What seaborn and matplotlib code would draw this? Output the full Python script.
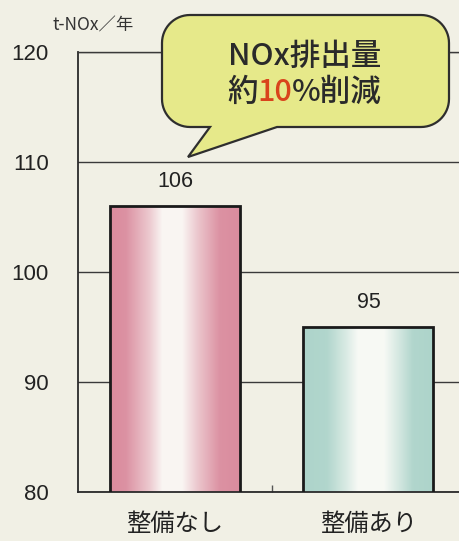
import numpy as np
import pandas as pd
import matplotlib
matplotlib.use("Agg")
import matplotlib.pyplot as plt
import seaborn as sns
from matplotlib.patches import Polygon
from matplotlib.colors import to_rgb

# --- data -------------------------------------------------------------
categories = ["整備なし", "整備あり"]
emissions = [106, 95]
yticks = [80, 90, 100, 110, 120]
unit_label = "t-NOx／年"
callout_line1 = "NOx排出量"
callout_line2 = ["約", "10", "%削減"]

# --- style ------------------------------------------------------------
sns.set_theme(style="white")
plt.rcParams["font.family"] = ["Liberation Sans", "Noto Sans CJK JP", "DejaVu Sans"]
cjk = ["Noto Sans CJK JP", "DejaVu Sans"]

W, H = 460, 541
paper = "#f1f0e5"
ink = "#222222"
bar_colors = ["#da8c9e", "#a9d2c8"]

fig = plt.figure(figsize=(W / 100, H / 100), dpi=100)
fig.patch.set_facecolor(paper)
ax = fig.add_axes([78 / W, 1 - 492 / H, (W - 78) / W, 440 / H])
ax.set_facecolor(paper)

df = pd.DataFrame({"cat": categories, "val": emissions})
sns.barplot(data=df, x="cat", y="val", ax=ax, width=0.672, color="white",
            edgecolor="#1a1a1a", linewidth=2.0, zorder=3)

ax.set_ylim(yticks[0], yticks[-1])
ax.set_xlim(-0.501, 1.473)

# gradient fill: coloured edges fading to white in the middle
def profile(n, color, knots, alphas):
    t = np.linspace(0, 1, n)
    a = np.interp(t, knots, alphas)[:, None]
    c = np.array(to_rgb(color))[None, :]
    white = np.array([0.985, 0.985, 0.97])[None, :]
    return (white * (1 - a) + c * a)[None, :, :]

knot_sets = [
    ([0, 0.12, 0.30, 0.40, 0.55, 0.68, 0.84, 1], [1, 0.95, 0.45, 0.05, 0.05, 0.5, 0.95, 1]),
    ([0, 0.18, 0.32, 0.42, 0.62, 0.74, 0.84, 1], [0.95, 0.9, 0.45, 0.05, 0.05, 0.5, 0.9, 0.95]),
]
y_floor = ax.get_ylim()[0]
for patch, col, (kn, al) in zip(ax.patches, bar_colors, knot_sets):
    x0, w, h = patch.get_x(), patch.get_width(), patch.get_height()
    ax.imshow(profile(256, col, kn, al), extent=(x0, x0 + w, y_floor, h),
              aspect="auto", interpolation="bilinear", zorder=2.5)
    patch.set_facecolor("none")
    patch.set_zorder(3)

ax.set_ylim(yticks[0], yticks[-1])
ax.set_xlim(-0.501, 1.473)

# value labels
for cont in ax.containers:
    ax.bar_label(cont, fmt="%d", padding=10, fontsize=15.5, color=ink)

# axes, grid, ticks
ax.set_yticks(yticks)
ax.yaxis.grid(True, color="#3a3a3a", lw=1.0)
ax.set_axisbelow(True)
for side in ["left", "bottom"]:
    ax.spines[side].set_visible(True)
    ax.spines[side].set_color("#2a2a2a")
    ax.spines[side].set_linewidth(1.3)
ax.spines["top"].set_visible(True)
ax.spines["top"].set_color("#3a3a3a")
ax.spines["top"].set_linewidth(1.0)
ax.spines["right"].set_visible(False)
ax.tick_params(axis="y", length=0, pad=21, labelsize=16, labelcolor=ink)
ax.tick_params(axis="x", which="major", length=0, pad=14, labelsize=17.5, labelcolor=ink)
for lab in ax.get_xticklabels():
    lab.set_family(cjk)
ax.set_xticks([0.5], minor=True)
ax.tick_params(axis="x", which="minor", bottom=True, direction="in", length=5,
               width=1, color="#555555")
ax.set_xlabel("")
ax.set_ylabel("")

# unit label
fig.text(53 / W, 1 - 25 / H, unit_label, fontsize=12.5, color="#333333",
         ha="left", va="center", family=cjk)

# speech bubble
def px(x, y):
    return (x / W, 1 - y / H)

L, R, T, B, r = 162, 449, 15, 127, 28
tail_left, tail_right, tip = 210, 277, (188, 157)

def arc(cx, cy, a0, a1, n=16):
    a = np.radians(np.linspace(a0, a1, n))
    return list(zip(cx + r * np.cos(a), cy + r * np.sin(a)))

pts = []
pts += arc(L + r, T + r, 180, 270)
pts += arc(R - r, T + r, 270, 360)
pts += arc(R - r, B - r, 0, 90)
pts += [(tail_right, B), tip, (tail_left, B)]
pts += arc(L + r, B - r, 90, 180)
bubble = Polygon([px(x, y) for x, y in pts], closed=True, transform=fig.transFigure,
                 facecolor="#e6e98a", edgecolor="#2e2e2e", linewidth=1.6,
                 zorder=10, clip_on=False)
fig.add_artist(bubble)

bubble_font = dict(fontsize=22, fontweight="medium", zorder=11, family=cjk)
fig.text(*px(305, 65), callout_line1, ha="center", va="baseline",
         color="#2a2a2a", **bubble_font)

renderer = fig.canvas.get_renderer()
seg_colors = ["#2a2a2a", "#d9441c", "#2a2a2a"]
x_cursor = 227
for seg, c in zip(callout_line2, seg_colors):
    t = fig.text(*px(x_cursor, 101), seg, ha="left", va="baseline", color=c, **bubble_font)
    x_cursor += t.get_window_extent(renderer).width

fig.savefig("out.png", dpi=100, facecolor=paper)
